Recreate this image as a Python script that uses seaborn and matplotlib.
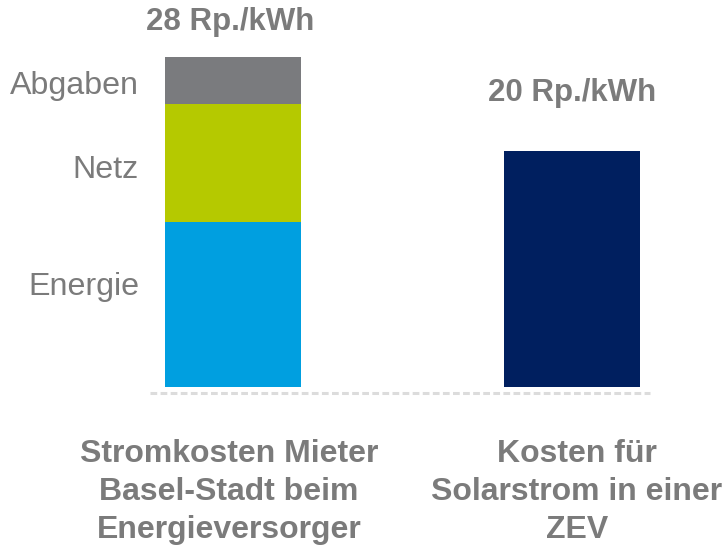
import pandas as pd
import matplotlib.pyplot as plt
import seaborn as sns

# Data (Rp./kWh)
categories = ['Stromkosten Mieter\nBasel-Stadt beim\nEnergieversorger',
              'Kosten für\nSolarstrom in einer\nZEV']
energie = [14, 0]
netz = [10, 0]
abgaben = [4, 0]
zev = [0, 20]
segment_labels = ['Abgaben', 'Netz', 'Energie']
total_labels = ['28 Rp./kWh', '20 Rp./kWh']

df = pd.DataFrame({'cat': categories, 'energie': energie, 'netz': netz,
                   'abgaben': abgaben, 'zev': zev})
df['top'] = df['energie'] + df['netz'] + df['abgaben'] + df['zev']
df['mid'] = df['energie'] + df['netz']

sns.set_theme(style='white')
plt.rcParams['font.family'] = ['Liberation Sans', 'DejaVu Sans']

W, H = 726, 546
fig = plt.figure(figsize=(W / 100, H / 100), dpi=100)
ax = fig.add_axes([0, 0, 1, 1])

gray, green, blue, navy = '#7a7b7e', '#b5c900', '#009fe0', '#001f5f'
txt = '#7b7b7b'
w = 136 / 339

# stacked: draw cumulative heights from the top down
sns.barplot(data=df, x='cat', y='top', order=categories, hue='cat',
            palette=[gray, navy], width=w, saturation=1, legend=False, ax=ax)
left = df.iloc[[0]]
sns.barplot(data=left, x='cat', y='mid', order=categories, color=green,
            width=w, saturation=1, ax=ax)
sns.barplot(data=left, x='cat', y='energie', order=categories, color=blue,
            width=w, saturation=1, ax=ax)
for p in ax.patches:
    p.set_linewidth(0)

# map pixels: bar centres at 233/572 px, baseline at 387 px, 11.79 px per unit
ax.set_xlim(-233 / 339, (W - 233) / 339)
ppu = 330 / 28
ax.set_ylim(-(H - 387) / ppu, 387 / ppu)
ax.axis('off')

# dashed baseline
ax.plot([-83 / 339, 417 / 339], [-6 / ppu, -6 / ppu], color='#dcdcdc',
        lw=2.2, ls=(0, (2.2, 1.1)), solid_capstyle='butt')


def fx(px):
    return px / W


def fy(py):
    return 1 - py / H


# segment labels
for lab, py in zip(segment_labels, [86, 170, 287]):
    fig.text(fx(139), fy(py), lab, ha='right', va='center', fontsize=23.2, color=txt)

# totals
for lab, px, py in zip(total_labels, [230, 572], [22, 93]):
    fig.text(fx(px), fy(py), lab, ha='center', va='center', fontsize=22.5,
             fontweight='bold', color=txt)

# category labels
for lab, px in zip(categories, [229, 577]):
    fig.text(fx(px), fy(492), lab, ha='center', va='center', fontsize=23,
             fontweight='bold', color=txt, linespacing=1.36)

fig.savefig('out.png', dpi=100)
